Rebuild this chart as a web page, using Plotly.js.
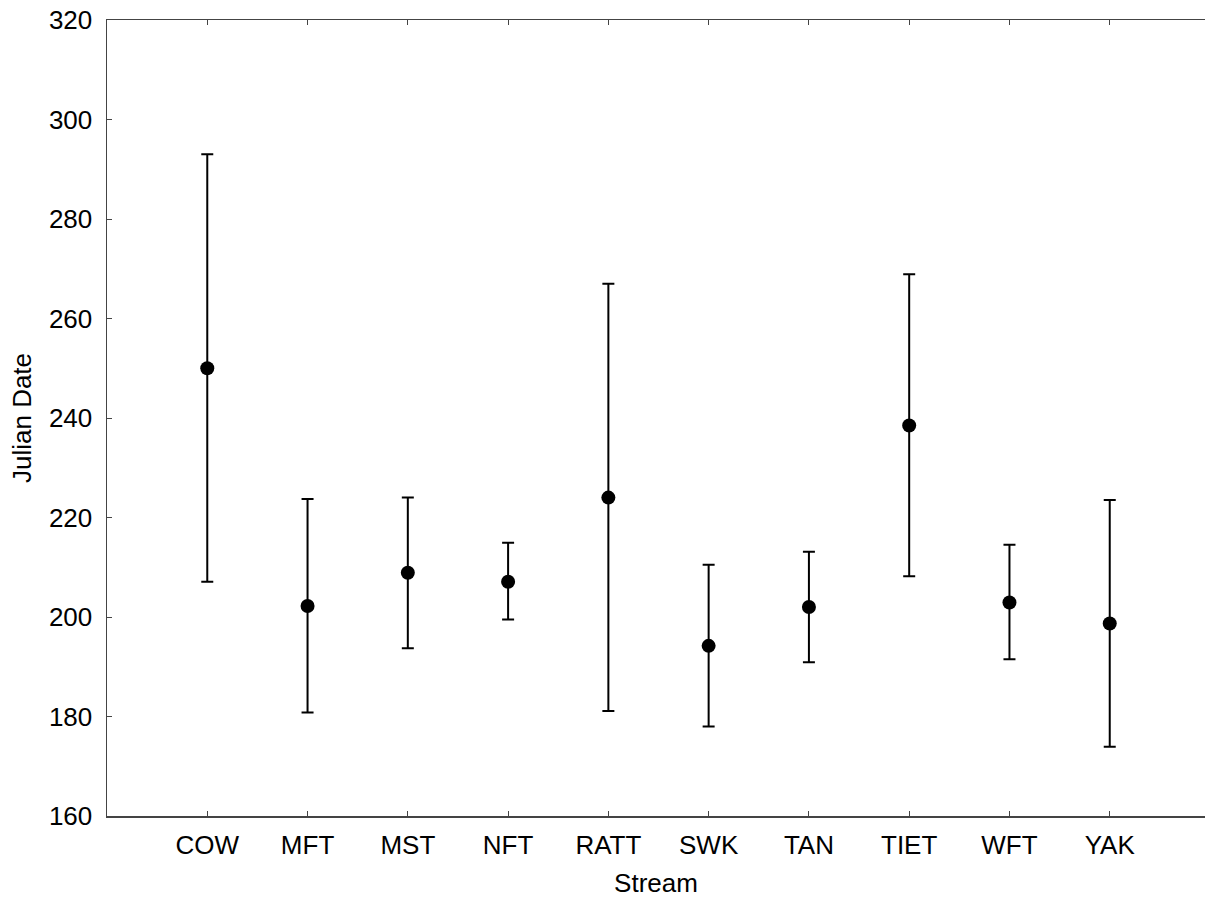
<!DOCTYPE html>
<html>
<head>
<meta charset="utf-8">
<script src="https://cdn.plot.ly/plotly-3.0.1.min.js"></script>
<style>
  html, body { margin: 0; padding: 0; background: #fff; }
  #chart { width: 1205px; height: 899px; }
</style>
</head>
<body>
<div id="chart"></div>
<script>
// Julian date of each stream: mean with lower / upper interval bounds
const streams = ["COW", "MFT", "MST", "NFT", "RATT", "SWK", "TAN", "TIET", "WFT", "YAK"];
const meanDate = [250.0, 202.2, 208.9, 207.1, 224.0, 194.2, 202.0, 238.5, 202.9, 198.7];
const upperDate = [293.0, 223.7, 224.0, 214.9, 267.0, 210.5, 213.1, 268.9, 214.5, 223.5];
const lowerDate = [207.1, 180.8, 193.7, 199.5, 181.1, 178.0, 190.9, 208.2, 191.5, 173.9];
const yTicks = [160, 180, 200, 220, 240, 260, 280, 300, 320];

const catIndex = streams.map((_, i) => i);
const errPlus = upperDate.map((u, i) => u - meanDate[i]);
const errMinus = lowerDate.map((l, i) => meanDate[i] - l);

const FONT = "Liberation Sans, Arial, Helvetica, sans-serif";
const TXT = { family: FONT, size: 26, color: "#000" };

const trace = {
  type: "scatter",
  mode: "markers",
  x: catIndex,
  y: meanDate,
  marker: { color: "#000", size: 14, line: { width: 0 } },
  error_y: {
    type: "data",
    symmetric: false,
    array: errPlus,
    arrayminus: errMinus,
    color: "#000",
    thickness: 2,
    width: 6
  },
  hoverinfo: "skip",
  showlegend: false
};

const layout = {
  width: 1205,
  height: 899,
  margin: { l: 107, r: 0, t: 20, b: 83 },
  paper_bgcolor: "#fff",
  plot_bgcolor: "#fff",
  font: TXT,
  xaxis: {
    range: [-1, 9.95],
    tickmode: "array",
    tickvals: catIndex,
    ticktext: streams,
    ticks: "inside",
    ticklen: 5,
    tickwidth: 1,
    tickcolor: "#444",
    showline: true,
    linecolor: "#444",
    linewidth: 1.5,
    mirror: "ticks",
    showgrid: false,
    zeroline: false,
    tickfont: TXT,
    ticklabelstandoff: 5,
    title: { text: "Stream", font: TXT, standoff: 15 }
  },
  yaxis: {
    range: [160, 320],
    tickmode: "array",
    tickvals: yTicks,
    ticktext: yTicks.map(String),
    ticks: "inside",
    ticklen: 5,
    tickwidth: 1,
    tickcolor: "#444",
    showline: true,
    linecolor: "#444",
    linewidth: 1.5,
    mirror: false,
    showgrid: false,
    zeroline: false,
    tickfont: TXT,
    ticklabelstandoff: 8,
    title: { text: "Julian Date", font: TXT, standoff: 10 }
  }
};

Plotly.newPlot("chart", [trace], layout, { displayModeBar: false, staticPlot: true });
</script>
</body>
</html>
